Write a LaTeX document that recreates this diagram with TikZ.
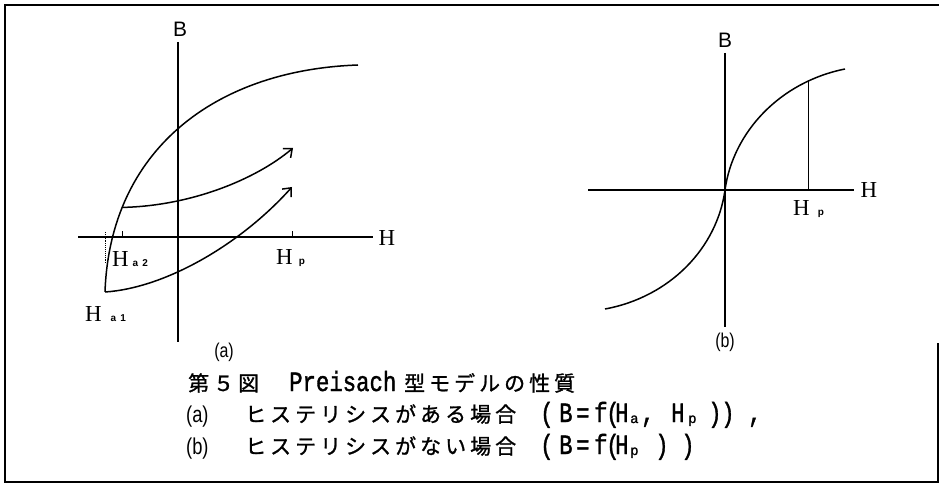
\documentclass[tikz,border=0pt]{standalone}
\usepackage{fontspec}
\setmainfont{Liberation Serif}
\newfontfamily\jpf[FakeBold=1.2]{Noto Sans CJK JP}
\newfontfamily\sansf{Liberation Sans}
\newfontfamily\monof[FakeBold=1.5]{Liberation Mono}
\usetikzlibrary{arrows.meta}
\makeatletter
\newcommand\spreadchars[2]{\@tfor\spc@c:=#2\do{\makebox[#1][l]{\spc@c}}}
\makeatother
\newcommand\smallsub[1]{\raisebox{0.5bp}{\sansf\bfseries\fontsize{10}{10}\selectfont #1}}
\newcommand\csub[1]{\raisebox{-1bp}{\monof\fontsize{14}{14}\selectfont #1}}
\newcommand\lat[1]{\scalebox{0.8}[1]{\monof\fontsize{28}{28}\selectfont #1}}
\newcommand\lc[2]{\makebox[#1][l]{\lat{#2}}}
\newcommand\narrowlab[1]{\scalebox{0.8}[1]{\sansf\fontsize{20}{20}\selectfont #1}}
\newcommand\caplab[1]{\scalebox{0.8}[1]{\sansf\fontsize{23}{23}\selectfont #1}}
\begin{document}
\begin{tikzpicture}[x=1bp,y=-1bp,
  frame/.style={line width=2bp},
  vaxis/.style={line width=1.6bp},
  haxis/.style={line width=2.8bp},
  curve/.style={line width=1.5bp},
  arr/.style={curve,-{Straight Barb[length=7bp,width=12bp,line width=1.5bp]}},
  thinline/.style={line width=0.8bp},
  tickline/.style={line width=1bp},
  blab/.style={font=\sansf\fontsize{21}{21}\selectfont, inner sep=0},
  hlab/.style={font=\fontsize{23}{23}\selectfont, inner sep=0},
  sublab/.style={font=\fontsize{23}{23}\selectfont, inner sep=0, anchor=base west},
  paren/.style={inner sep=0},
  captxt/.style={font=\jpf\fontsize{21}{21}\selectfont, inner sep=0, anchor=base west},
  captlat/.style={inner sep=0, anchor=base west}]
\useasboundingbox (0,0) rectangle (939,485);
% frame
\coordinate (f1) at (5,5);
\coordinate (f2) at (939,5);
\coordinate (f3) at (5,482);
\coordinate (f4) at (938,482);
\coordinate (f5) at (938,343);
\draw[frame] (f2) -- (f1) -- (f3) -- (f4) -- (f5);

% ---------- (a) ----------
\coordinate (aO) at (178,237);
\coordinate (aBtop) at (178,42);
\coordinate (aBbot) at (178,342);
\coordinate (aHl) at (78,237);
\coordinate (aHr) at (373,237);
\draw[vaxis] (aBtop) -- (aBbot);
\draw[haxis] (aHl) -- (aHr);
\node[blab] (aB) at (180,29) {B};
\node[hlab] (aH) at (387,238) {H};

\coordinate (Ha1) at (105,292);
\coordinate (aTop) at (358,65);
\coordinate (aArr1) at (293,148);
\coordinate (aArr2) at (292,187);
\draw[curve] (Ha1) .. controls (110,150) and (215,70) .. coordinate[pos=0.22] (Ha2) (aTop);
\draw[arr] (Ha2) .. controls (190,206) and (255,180) .. (aArr1);
\draw[arr] (Ha1) .. controls (165,288) and (240,245) .. (aArr2);

% ticks
\coordinate (t1) at (122,237);
\coordinate (t2) at (292,237);
\draw[tickline] (t1) -- ++(0,-6);
\draw[tickline] (t2) -- ++(0,-6);
\coordinate (d1) at (105,232);
\coordinate (d2) at (105,264);
\draw[densely dotted, line width=0.9bp] (d1) -- (d2);

\node[sublab] (lHa2) at (112,267) {H\hspace{4bp}\smallsub{a\hspace{4bp}2}};
\node[sublab] (lHp) at (276,265) {H\hspace{6bp}\smallsub{p}};
\node[sublab] (lHa1) at (85,322) {H\hspace{9bp}\smallsub{a\hspace{4bp}1}};
\node[paren] (la) at (224,352) {\narrowlab{(a)}};

% ---------- (b) ----------
\coordinate (bO) at (725,190);
\coordinate (bBtop) at (725,53);
\coordinate (bBbot) at (725,327);
\coordinate (bHl) at (588,190);
\coordinate (bHr) at (854,190);
\draw[vaxis] (bBtop) -- (bBbot);
\draw[haxis] (bHl) -- (bHr);
\node[blab] (bB) at (725,40) {B};
\node[hlab] (bH) at (869,190) {H};
\coordinate (bTop) at (845,69);
\coordinate (bBot) at (605,309);
\draw[curve] (bO) .. controls (733,132) and (780,82) .. coordinate[pos=0.8] (bHpTop) (bTop);
\draw[curve] (bO) .. controls (717,248) and (670,297) .. (bBot);
\draw[thinline] (bHpTop) -- (bHpTop |- bO);
\node[sublab] (bHp) at (793,216) {H\hspace{8bp}\smallsub{p}};
\node[paren] (lb) at (725,342) {\narrowlab{(b)}};

% ---------- caption ----------
\node[captxt] (c1a) at (188,391) {\spreadchars{25bp}{第５図}};
\node[captlat] (c1b) at (289,391) {\lat{Preisach}};
\node[captxt] (c1c) at (404,391) {\spreadchars{25bp}{型モデルの性質}};

\node[anchor=base west, inner sep=0] (c2a) at (186,422) {\caplab{(a)}};
\node[captxt] (c2b) at (245,422) {\spreadchars{25bp}{ヒステリシスがある場合}};
\node[captlat] (c2c) at (540,422) {\lc{19bp}{(}\lc{17bp}{B}\lc{18bp}{=}\lc{12bp}{f}\lc{9bp}{(}\lc{15bp}{H}\makebox[11bp][l]{\csub{a}}\lc{30bp}{,}\lc{17bp}{H}\makebox[20bp][l]{\csub{p}}\lc{13bp}{)}\lc{27bp}{)}\lat{,}};

\node[anchor=base west, inner sep=0] (c3a) at (186,454) {\caplab{(b)}};
\node[captxt] (c3b) at (245,454) {\spreadchars{25bp}{ヒステリシスがない場合}};
\node[captlat] (c3c) at (540,454) {\lc{19bp}{(}\lc{17bp}{B}\lc{18bp}{=}\lc{12bp}{f}\lc{9bp}{(}\lc{15bp}{H}\makebox[25bp][l]{\csub{p}}\lc{26bp}{)}\lat{)}};
\end{tikzpicture}
\end{document}
